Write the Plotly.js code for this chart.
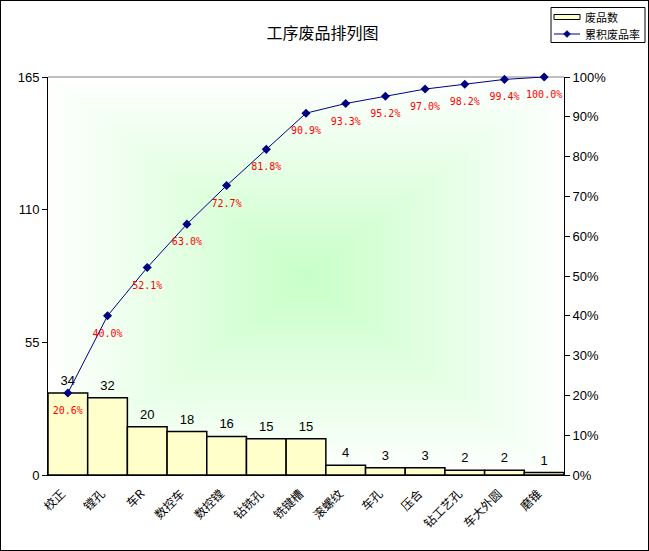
<!DOCTYPE html>
<html>
<head>
<meta charset="utf-8">
<script src="https://cdn.plot.ly/plotly-3.0.1.min.js"></script>
<style>
html,body{margin:0;padding:0;background:#fff;}
#wrap{position:relative;width:649px;height:551px;}
#chart{width:649px;height:551px;}
#frame{position:absolute;left:0;top:0;width:649px;height:551px;box-sizing:border-box;border:1px solid #000;pointer-events:none;}
</style>
</head>
<body>
<div id="wrap"><div id="chart"></div><div id="frame"></div></div>
<script>
const categories = ["校正","镗孔","车R","数控车","数控镗","钻铣孔","铣键槽","滚螺纹","车孔","压合","钻工艺孔","车大外圆","磨锥"];
const defects = [34, 32, 20, 18, 16, 15, 15, 4, 3, 3, 2, 2, 1];
const countTicks = [0, 55, 110, 165];
const titleText = "工序废品排列图";
const barName = "废品数";
const lineName = "累积废品率";

const total = defects.reduce((a, b) => a + b, 0);
let run = 0;
const cumRate = defects.map(v => { run += v; return run / total; });
const cumText = cumRate.map(r => (r * 100).toFixed(1) + "%");

function gradientURI() {
  const W = 258, H = 199;
  const c = document.createElement("canvas");
  c.width = W; c.height = H;
  const ctx = c.getContext("2d");
  const img = ctx.createImageData(W, H);
  const cx = W / 2, cy = H / 2;
  const c0 = [200, 255, 200];
  for (let y = 0; y < H; y++) {
    for (let x = 0; x < W; x++) {
      const t = Math.min(1, Math.max(Math.abs(x - cx) / cx, Math.abs(y - cy) / cy));
      const i = (y * W + x) * 4;
      img.data[i] = c0[0] + (255 - c0[0]) * t;
      img.data[i + 1] = 255;
      img.data[i + 2] = c0[2] + (255 - c0[2]) * t;
      img.data[i + 3] = 255;
    }
  }
  ctx.putImageData(img, 0, 0);
  return c.toDataURL("image/png");
}

const cjk = "'Noto Sans CJK SC', 'Liberation Sans', sans-serif";
const num = "'Liberation Sans', Arial, sans-serif";

// page-pixel -> paper coordinates (plot area 48..564 x, 77..475 y)
const PL = 48, PR = 564, PT = 77, PB = 475;
const px = v => (v - PL) / (PR - PL);
const py = v => (PB - v) / (PB - PT);

const traces = [
  {
    type: "bar",
    name: barName,
    x: categories,
    y: defects,
    cliponaxis: false,
    marker: {color: "#ffffcc", line: {color: "#000", width: 1.5}},
    yaxis: "y"
  },
  {
    type: "scatter",
    name: barName + " labels",
    x: categories,
    y: defects,
    mode: "markers+text",
    text: defects.map(String),
    textposition: "top center",
    textfont: {family: num, size: 13, color: "#000"},
    marker: {size: 6, opacity: 0},
    cliponaxis: false,
    yaxis: "y"
  },
  {
    type: "scatter",
    name: lineName,
    x: categories,
    y: cumRate,
    mode: "lines+markers",
    cliponaxis: false,
    line: {color: "#000080", width: 1},
    marker: {symbol: "diamond", size: 7, color: "#000080"},
    yaxis: "y2"
  },
  {
    type: "scatter",
    name: lineName + " labels",
    x: categories,
    y: cumRate,
    mode: "markers+text",
    text: cumText,
    textposition: "bottom center",
    textfont: {family: "'DejaVu Sans Mono', monospace", size: 10, color: "#ff0000"},
    marker: {size: 20, opacity: 0},
    cliponaxis: false,
    yaxis: "y2"
  }
];

const layout = {
  width: 649,
  height: 551,
  margin: {l: 48, r: 85, t: 77, b: 76, pad: 0, autoexpand: false},
  paper_bgcolor: "#ffffff",
  plot_bgcolor: "rgba(0,0,0,0)",
  showlegend: false,
  title: {
    text: titleText,
    font: {family: cjk, size: 16, color: "#000"},
    x: 0.497, xanchor: "center",
    y: 0.94, yanchor: "middle"
  },
  bargap: 0,
  xaxis: {
    type: "category",
    range: [-0.5, categories.length - 0.5],
    autorange: false,
    tickangle: -45,
    tickfont: {family: cjk, size: 12, color: "#000"},
    ticklabelshift: -6,
    ticklabelstandoff: 6,
    showgrid: false,
    showline: true,
    linecolor: "#000",
    linewidth: 1,
    ticks: "",
    zeroline: false,
    automargin: false,
    fixedrange: true
  },
  yaxis: {
    range: [0, 165],
    tickvals: countTicks,
    ticktext: countTicks.map(String),
    tickfont: {family: num, size: 13, color: "#000"},
    showgrid: false,
    showline: true,
    linecolor: "#000",
    linewidth: 1,
    ticks: "outside",
    ticklen: 5,
    tickcolor: "#000",
    zeroline: false,
    automargin: false,
    fixedrange: true
  },
  yaxis2: {
    overlaying: "y",
    side: "right",
    range: [0, 1],
    dtick: 0.1,
    tick0: 0,
    tickformat: ".0%",
    tickfont: {family: num, size: 13, color: "#000"},
    showgrid: false,
    showline: true,
    linecolor: "#000",
    linewidth: 1,
    ticks: "outside",
    ticklen: 5,
    tickcolor: "#000",
    zeroline: false,
    automargin: false,
    fixedrange: true
  },
  shapes: [
    {type: "line", xref: "paper", yref: "paper", x0: 0, x1: 1, y0: 1, y1: 1,
     line: {color: "#808080", width: 1}, layer: "below"},
    {type: "rect", xref: "paper", yref: "paper", x0: px(551), x1: px(645), y0: py(7.5), y1: py(42.5),
     fillcolor: "#ffffff", line: {color: "#000", width: 1}},
    {type: "rect", xref: "paper", yref: "paper", x0: px(554), x1: px(580), y0: py(14.5), y1: py(19.5),
     fillcolor: "#ffffcc", line: {color: "#000", width: 1}},
    {type: "line", xref: "paper", yref: "paper", x0: px(554), x1: px(580), y0: py(34), y1: py(34),
     line: {color: "#000080", width: 1}},
    {type: "path", xref: "paper", yref: "paper",
     path: "M " + px(567) + "," + py(30.5) + " L " + px(570.5) + "," + py(34) + " L " + px(567) + "," + py(37.5) + " L " + px(563.5) + "," + py(34) + " Z",
     fillcolor: "#000080", line: {color: "#000080", width: 0.5}}
  ],
  annotations: [
    {xref: "paper", yref: "paper", x: px(583), y: py(17), xanchor: "left", yanchor: "middle",
     text: barName, showarrow: false, font: {family: cjk, size: 11, color: "#000"}},
    {xref: "paper", yref: "paper", x: px(583), y: py(34), xanchor: "left", yanchor: "middle",
     text: lineName, showarrow: false, font: {family: cjk, size: 11, color: "#000"}}
  ],
  images: [
    {source: gradientURI(), xref: "paper", yref: "paper", x: 0, y: 1,
     sizex: 1, sizey: 1, sizing: "stretch", xanchor: "left", yanchor: "top", layer: "below"}
  ]
};

Plotly.newPlot("chart", traces, layout, {displayModeBar: false, staticPlot: true});
</script>
</body>
</html>
